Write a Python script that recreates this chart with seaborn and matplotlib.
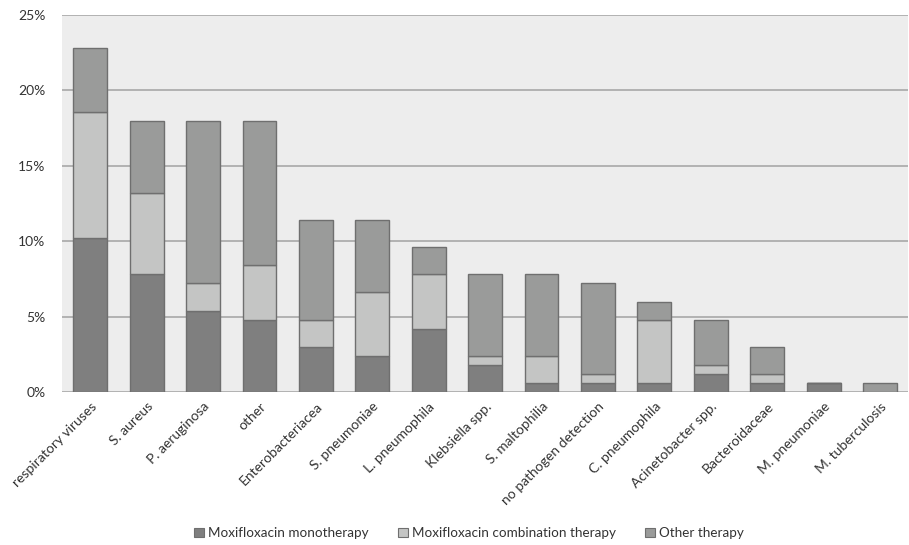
import matplotlib
matplotlib.use("Agg")
import matplotlib.pyplot as plt
import seaborn as sns
import pandas as pd
import numpy as np
from matplotlib.patches import Patch
from matplotlib.ticker import FuncFormatter

categories = ["respiratory viruses", "S. aureus", "P. aeruginosa", "other",
              "Enterobacteriacea", "S. pneumoniae", "L. pneumophila",
              "Klebsiella spp.", "S. maltophilia", "no pathogen detection",
              "C. pneumophila", "Acinetobacter spp.", "Bacteroidaceae",
              "M. pneumoniae", "M. tuberculosis"]
mono = [10.2, 7.8, 5.4, 4.8, 3.0, 2.4, 4.2, 1.8, 0.6, 0.6, 0.6, 1.2, 0.6, 0.6, 0.0]
combo = [8.4, 5.4, 1.8, 3.6, 1.8, 4.2, 3.6, 0.6, 1.8, 0.6, 4.2, 0.6, 0.6, 0.0, 0.0]
other_t = [4.2, 4.8, 10.8, 9.6, 6.6, 4.8, 1.8, 5.4, 5.4, 6.0, 1.2, 3.0, 1.8, 0.0, 0.6]
series_names = ["Moxifloxacin monotherapy", "Moxifloxacin combination therapy", "Other therapy"]
yticks = [0, 5, 10, 15, 20, 25]

colors = ["#7f7f7f", "#c4c5c4", "#9a9b9a"]
edge = "#6f6f6f"

sns.set_theme(style="white")
plt.rcParams['font.family'] = ['Lato', 'DejaVu Sans']

df = pd.DataFrame({"cat": categories, "mono": mono, "combo": combo, "other": other_t})
df["b2"] = df["mono"]
df["b3"] = df["mono"] + df["combo"]

fig = plt.figure(figsize=(9.09, 5.45), dpi=100)
ax = fig.add_axes([0.0682, 0.2807, 0.931, 0.6918])
ax.set_facecolor("#ededed")

for col, bcol, c in [("mono", None, colors[0]), ("combo", "b2", colors[1]), ("other", "b3", colors[2])]:
    kw = {}
    if bcol is not None:
        kw["bottom"] = df[bcol].values
    sns.barplot(data=df, x="cat", y=col, color=c, ax=ax, width=0.6,
                edgecolor=edge, linewidth=1.0, saturation=1, zorder=3, **kw)

ax.set_ylim(0, 25)
ax.set_xlim(-0.5, len(categories) - 0.5)
ax.set_yticks(yticks)
ax.yaxis.set_major_formatter(FuncFormatter(lambda v, p: f"{int(v)}%"))
ax.grid(axis="y", color="#b2b2b2", linewidth=1.4, zorder=0)
ax.set_axisbelow(True)
for s in ax.spines.values():
    s.set_visible(False)
ax.set_xlabel("")
ax.set_ylabel("")
ax.tick_params(axis="both", length=0, labelsize=10, colors="#333333")
ax.tick_params(axis="y", pad=12)
ax.tick_params(axis="x", pad=6)
ax.set_xticks(range(len(categories)))
ax.set_xticklabels(categories, rotation=45, ha="right", rotation_mode="anchor",
                   fontsize=10, color="#333333")

handles = [Patch(facecolor=colors[i], edgecolor=edge, linewidth=0.8) for i in range(3)]
fig.legend(handles, series_names, loc="center", bbox_to_anchor=(0.516, 0.022),
           ncol=3, frameon=False, fontsize=9.7, handlelength=0.7, handleheight=0.7,
           handletextpad=0.3, columnspacing=2.2, labelcolor="#333333")

fig.savefig("out.png", dpi=100)
